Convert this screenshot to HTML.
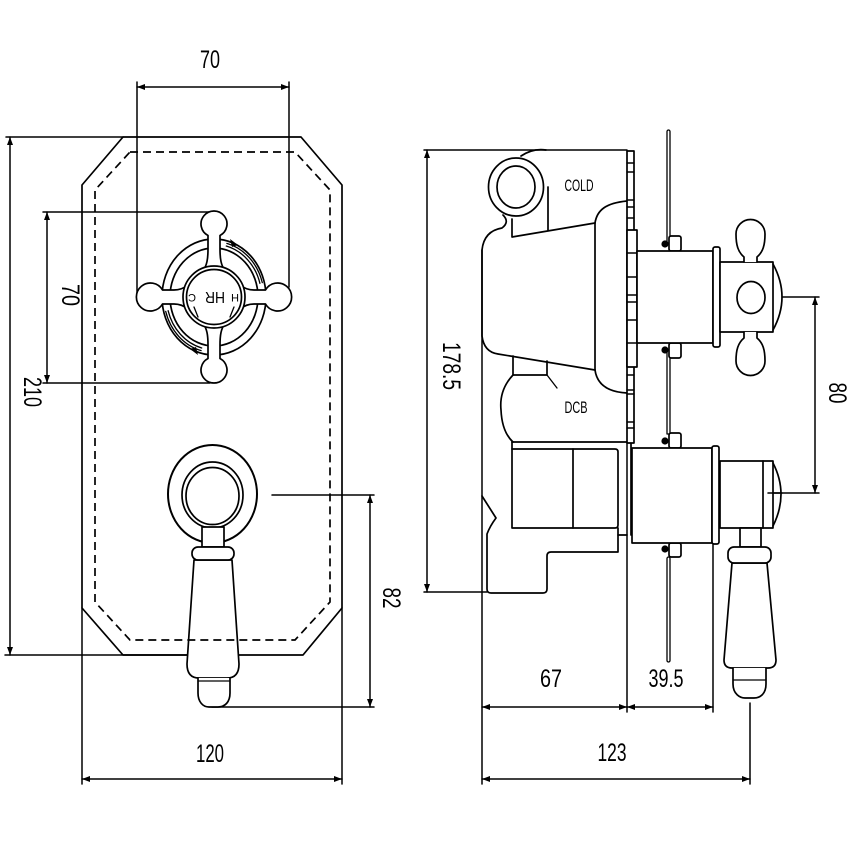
<!DOCTYPE html>
<html><head><meta charset="utf-8"><style>
html,body{margin:0;padding:0;background:#fff;}
svg{display:block;}
text{font-family:"Liberation Sans",sans-serif;fill:#000;stroke:none;}
</style></head><body>
<svg width="850" height="850" viewBox="0 0 850 850" xmlns="http://www.w3.org/2000/svg">
<defs>
<marker id="a" viewBox="0 0 8 6" refX="8" refY="3" markerWidth="8" markerHeight="6" markerUnits="userSpaceOnUse" orient="auto-start-reverse"><path d="M0,0 L8,3 L0,6 Z" fill="#000" stroke="none"/></marker>
</defs>
<rect width="850" height="850" fill="#fff"/>
<g fill="none" stroke="#000" stroke-width="1.7" stroke-linejoin="round" stroke-linecap="round">

<!-- ============ FRONT VIEW ============ -->
<path d="M123,137 L301,137 L342,185 L342,608 L303,655 L123,655 L82,608 L82,185 Z"/>

<!-- dims front -->
<g stroke-width="1.5">
<line x1="137" y1="82" x2="137" y2="295"/>
<line x1="289" y1="82" x2="289" y2="287"/>
<line x1="137" y1="87" x2="289" y2="87" marker-start="url(#a)" marker-end="url(#a)"/>
<line x1="6" y1="137" x2="123" y2="137"/>
<line x1="5" y1="655" x2="190" y2="655"/>
<line x1="10" y1="137" x2="10" y2="655" marker-start="url(#a)" marker-end="url(#a)"/>
<line x1="43" y1="212" x2="212" y2="212"/>
<line x1="43" y1="383" x2="210" y2="383"/>
<line x1="47" y1="212" x2="47" y2="383" marker-start="url(#a)" marker-end="url(#a)"/>
<line x1="272" y1="495" x2="374" y2="495"/>
<line x1="212" y1="707" x2="374" y2="707"/>
<line x1="370" y1="495" x2="370" y2="707" marker-start="url(#a)" marker-end="url(#a)"/>
<line x1="82" y1="608" x2="82" y2="784"/>
<line x1="342" y1="608" x2="342" y2="784"/>
<line x1="82" y1="779" x2="342" y2="779" marker-start="url(#a)" marker-end="url(#a)"/>
</g>

<!-- cross handle front -->
<g transform="translate(214,297)">
<ellipse cx="0" cy="0" rx="52" ry="58" fill="#fff"/>
<ellipse cx="0" cy="0" rx="44" ry="49"/>
<path d="M12.3,-51 A47.5 53 0 0 1 45.9,-13.7" stroke-width="1.3"/>
<path d="M12.9,-53.6 A50 55.5 0 0 1 48.3,-14.4" stroke-width="1.3"/>
<path d="M-12.3,51 A47.5 53 0 0 1 -45.9,13.7" stroke-width="1.3"/>
<path d="M-12.9,53.6 A50 55.5 0 0 1 -48.3,14.4" stroke-width="1.3"/>
<path d="M16,-58 L24,-52 L18,-50 Z" fill="#000" stroke="none"/>
<path d="M-16,58 L-24,52 L-18,50 Z" fill="#000" stroke="none"/>
<path d="M-11,-26 C-7,-32 -6,-38 -6,-48 L-6,-61.5 A13 13 0 1 1 6,-61.5 L6,-48 C6,-38 7,-32 11,-26 Z" fill="#fff"/>
<path d="M-11,-26 C-7,-32 -6,-38 -6,-48 L-6,-61.5 A13 13 0 1 1 6,-61.5 L6,-48 C6,-38 7,-32 11,-26 Z" fill="#fff" transform="rotate(180)"/>
<path d="M-12,-26 C-8,-31 -7,-35 -7,-40 L-7,-51.5 A14 14 0 1 1 7,-51.5 L7,-40 C7,-35 8,-31 12,-26 Z" fill="#fff" transform="rotate(90)"/>
<path d="M-12,-26 C-8,-31 -7,-35 -7,-40 L-7,-51.5 A14 14 0 1 1 7,-51.5 L7,-40 C7,-35 8,-31 12,-26 Z" fill="#fff" transform="rotate(-90)"/>
<circle cx="0" cy="0" r="31" fill="#fff"/>
<circle cx="0" cy="0" r="27.5"/>
<path d="M-20,10 L-16,20" stroke-width="1.3"/>
<path d="M20,10 L16,20" stroke-width="1.3"/>
</g>
<text transform="translate(215,298) rotate(180)" x="0" y="6" font-size="16" text-anchor="middle" textLength="20" lengthAdjust="spacingAndGlyphs">HR</text>
<text transform="translate(192,298) rotate(180)" x="0" y="4" font-size="11" text-anchor="middle">C</text>
<text transform="translate(235,298) rotate(180)" x="0" y="4" font-size="11" text-anchor="middle">H</text>

<!-- lever front -->
<ellipse cx="212.5" cy="494" rx="44.5" ry="49" fill="#fff" stroke-width="2"/>
<ellipse cx="212.5" cy="495" rx="30.5" ry="33"/>
<ellipse cx="212.5" cy="496" rx="26.5" ry="28.5"/>
<rect x="202" y="527" width="22" height="20" fill="#fff"/>
<path d="M194,560 L187,664 Q187,678 199,678 L227,678 Q239,678 239,664 L232,560 Z" fill="#fff"/>
<rect x="192" y="547" width="42" height="13" rx="6" fill="#fff"/>
<path d="M198,678 L198,693 C198,702 203,707 209,707 L218,707 C225,707 230,702 230,693 L230,678" fill="#fff"/>
<line x1="198" y1="681" x2="230" y2="681" stroke-width="1.2"/>

<!-- dashed inner outline -->
<path d="M130,152 L295,152 L330,190 L330,602 L295,640 L130,640 L95,602 L95,190 Z" stroke-dasharray="8,5" stroke-linecap="butt"/>

<!-- ============ SIDE VIEW ============ -->
<g stroke-width="1.5">
<line x1="424" y1="150" x2="627" y2="150"/>
<line x1="424" y1="592" x2="487" y2="592"/>
<line x1="427" y1="150" x2="427" y2="592" marker-start="url(#a)" marker-end="url(#a)"/>
<line x1="482" y1="250" x2="482" y2="784"/>
<line x1="627" y1="443" x2="627" y2="712"/>
<line x1="713" y1="544" x2="713" y2="712"/>
<line x1="750" y1="703" x2="750" y2="784"/>
<line x1="482" y1="707" x2="627" y2="707" marker-start="url(#a)" marker-end="url(#a)"/>
<line x1="627" y1="707" x2="713" y2="707" marker-start="url(#a)" marker-end="url(#a)"/>
<line x1="482" y1="779" x2="750" y2="779" marker-start="url(#a)" marker-end="url(#a)"/>
<line x1="782" y1="297" x2="819" y2="297"/>
<line x1="768" y1="493" x2="819" y2="493"/>
<line x1="815" y1="297" x2="815" y2="493" marker-start="url(#a)" marker-end="url(#a)"/>
</g>

<!-- body -->
<path d="M521,156 Q533,148 546,150"/>
<ellipse cx="516" cy="187" rx="27.5" ry="29"/>
<ellipse cx="516" cy="187" rx="19" ry="21"/>
<line x1="548" y1="187" x2="548" y2="230"/>
<path d="M512,219 L512,237 L595,223"/>
<path d="M503,215 Q510,222 502,228 Q484,231 482,250 L482,336 Q484,352 498,354 L595,370"/>
<line x1="595" y1="223" x2="595" y2="370"/>
<path d="M595,223 C597,210 606,203 627,201"/>
<path d="M595,370 C597,384 607,392 627,393"/>
<path d="M513,356 L513,375 L547,375 L547,361"/>
<line x1="547" y1="375" x2="557" y2="388" stroke-width="1.3"/>
<path d="M513,375 Q499,390 501,410 Q502,432 513,442"/>
<path d="M512,442 L627,442"/>
<line x1="512" y1="442" x2="512" y2="449"/>
<path d="M512,449 L615,449 Q618,449 618,452 L618,525 Q618,528 615,528 L512,528 Z"/>
<line x1="573" y1="449" x2="573" y2="528"/>
<path d="M618,528 L618,552 L551,552 Q547,552 547,556 L547,589 Q547,593 543,593 L491,593 Q487,593 487,589 L487,534 Q490,526 496,518 L482,496"/>
<line x1="618" y1="535" x2="627" y2="535"/>
<line x1="631" y1="443" x2="631" y2="535"/>

<!-- plate strip -->
<rect x="627" y="151" width="7" height="292" fill="#fff"/>
<rect x="627" y="230" width="10" height="137" fill="#fff"/>
<g stroke-width="1.4">
<line x1="627" y1="163" x2="634" y2="163"/><line x1="627" y1="172" x2="634" y2="172"/>
<line x1="627" y1="200" x2="634" y2="200"/><line x1="627" y1="207" x2="634" y2="207"/>
<line x1="627" y1="218" x2="634" y2="218"/>
<line x1="627" y1="253" x2="637" y2="253"/><line x1="627" y1="277" x2="637" y2="277"/>
<line x1="627" y1="295" x2="637" y2="295"/><line x1="627" y1="302" x2="637" y2="302"/>
<line x1="627" y1="320" x2="637" y2="320"/><line x1="627" y1="343" x2="637" y2="343"/>
<line x1="627" y1="375" x2="634" y2="375"/>
<line x1="627" y1="390" x2="634" y2="390"/><line x1="627" y1="394" x2="634" y2="394"/>
<line x1="627" y1="422" x2="634" y2="422"/><line x1="627" y1="428" x2="634" y2="428"/>
</g>

<!-- rods and nuts -->
<rect x="667" y="130" width="3" height="113" rx="1.5" stroke-width="1.3"/>
<rect x="667" y="350" width="3" height="84" stroke-width="1.3"/>
<rect x="667" y="557" width="3" height="105" rx="1.5" stroke-width="1.3"/>
<rect x="669" y="236" width="12" height="15" rx="2" fill="#fff"/>
<rect x="669" y="343" width="12" height="15" rx="2" fill="#fff"/>
<rect x="669" y="433" width="12" height="15" rx="2" fill="#fff"/>
<rect x="669" y="543" width="12" height="14" rx="2" fill="#fff"/>

<!-- top valve -->
<rect x="637" y="251" width="76" height="92" fill="#fff"/>
<rect x="713" y="247" width="7" height="100" rx="2" fill="#fff"/>
<rect x="720" y="262" width="53" height="70" fill="#fff"/>
<path d="M773,264 Q791,297 773,330"/>
<ellipse cx="751" cy="297.5" rx="14" ry="16"/>
<path d="M744,262 L744,257 C738,252 736,245 736,234 A14.5 14.5 0 0 1 765,234 C765,245 763,252 757,257 L757,262" fill="#fff"/>
<path d="M744,332 L744,338 C738,343 736,350 736,361 A14.5 14.5 0 0 0 765,361 C765,350 763,343 757,338 L757,332" fill="#fff"/>

<!-- lower valve -->
<rect x="632" y="448" width="80" height="95" fill="#fff"/>
<rect x="712" y="446" width="7" height="98" rx="2" fill="#fff"/>
<rect x="720" y="461" width="53" height="67" fill="#fff"/>
<line x1="763" y1="461" x2="763" y2="528"/>
<path d="M773,463 Q789,494 773,526"/>
<line x1="768" y1="493" x2="782" y2="493" stroke-width="1.5"/>

<!-- side lever -->
<rect x="740" y="528" width="21" height="19" fill="#fff"/>
<path d="M732,563 L724,660 Q724,668 732,668 L768,668 Q776,668 776,660 L767,563 Z" fill="#fff"/>
<rect x="728" y="547" width="43" height="16" rx="6" fill="#fff"/>
<path d="M733,668 L733,684 C733,694 740,698 745,698 L754,698 C760,698 766,694 766,684 L766,668" fill="#fff"/>
<line x1="733" y1="680" x2="766" y2="680" stroke-width="1.2"/>

<!-- dots -->
<g fill="#000" stroke="none">
<circle cx="665" cy="244" r="3.6"/>
<circle cx="665" cy="350" r="3.6"/>
<circle cx="665" cy="441" r="3.6"/>
<circle cx="665" cy="549" r="3.6"/>
</g>
</g>

<!-- ============ TEXT ============ -->
<g font-size="25" text-anchor="middle">
<text x="210" y="68" textLength="20" lengthAdjust="spacingAndGlyphs">70</text>
<text x="210" y="762" textLength="28" lengthAdjust="spacingAndGlyphs">120</text>
<text x="612" y="761" textLength="29" lengthAdjust="spacingAndGlyphs">123</text>
<text x="551" y="687" textLength="22" lengthAdjust="spacingAndGlyphs">67</text>
<text x="666" y="687" textLength="35" lengthAdjust="spacingAndGlyphs">39.5</text>
<text transform="translate(33,392) rotate(90)" x="0" y="9" textLength="30" lengthAdjust="spacingAndGlyphs">210</text>
<text transform="translate(71,295) rotate(90)" x="0" y="9" textLength="22" lengthAdjust="spacingAndGlyphs">70</text>
<text transform="translate(392,598) rotate(90)" x="0" y="9" textLength="21" lengthAdjust="spacingAndGlyphs">82</text>
<text transform="translate(452,366) rotate(90)" x="0" y="9" textLength="48" lengthAdjust="spacingAndGlyphs">178.5</text>
<text transform="translate(838,393) rotate(90)" x="0" y="9" textLength="21" lengthAdjust="spacingAndGlyphs">80</text>
</g>
<g font-size="17" text-anchor="middle">
<text x="579" y="191" textLength="29" lengthAdjust="spacingAndGlyphs">COLD</text>
<text x="576" y="413" textLength="23" lengthAdjust="spacingAndGlyphs">DCB</text>
</g>
</svg>
</body></html>
